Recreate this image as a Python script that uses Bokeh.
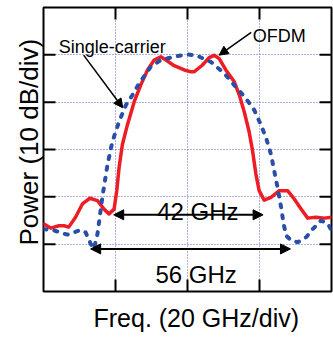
from bokeh.plotting import figure
from bokeh.models import (FixedTicker, Arrow, NormalHead, Label, Grid, Title,
                          ColumnDataSource)
from bokeh.embed import file_html
from bokeh.resources import INLINE

# ---- data (frequency offset in GHz, relative power in dB) ----
ofdm_freq = [-40.0, -38.0, -35.7, -34.3, -33.0, -31.1, -29.2, -27.1, -25.0, -23.2,
             -21.8, -20.4, -19.65, -19.0, -18.1, -16.7, -14.8, -13.0, -11.1, -9.25,
             -7.4, -6.0, -3.7, -0.9, 1.0, 1.8, 4.1, 6.0, 7.4, 8.8,
             10.65, 13.0, 14.4, 15.75, 17.1, 18.1, 19.0, 19.9, 21.3, 23.2,
             25.5, 27.8, 29.7, 31.6, 33.4, 35.7, 38.05, 40.0]
ofdm_power = [-45.7, -46.6, -46.1, -46.1, -46.4, -44.3, -41.5, -40.3, -40.8, -42.6,
              -43.6, -42.6, -38.7, -33.8, -29.0, -24.8, -19.9, -16.4, -13.2, -11.1,
              -10.4, -11.1, -12.3, -13.2, -13.6, -13.6, -12.2, -10.6, -10.1, -10.8,
              -13.2, -15.7, -18.5, -22.0, -26.2, -30.4, -35.2, -38.7, -40.7, -40.1,
              -38.7, -38.7, -40.5, -42.6, -44.5, -44.3, -44.5, -44.3]

sc_freq = [-40.0, -37.1, -33.4, -29.7, -28.3, -26.9, -26.0, -25.0, -23.6, -22.2,
           -20.85, -19.0, -17.1, -15.3, -13.4, -10.2, -7.4, -3.7, 0.1, 2.7,
           6.5, 10.2, 13.0, 16.2, 18.5, 20.4, 21.8, 23.2, 24.1, 25.0,
           26.0, 26.7, 27.4, 28.8, 30.6, 33.0, 34.8, 37.1, 39.0, 40.0]
sc_power = [-46.8, -47.1, -48.0, -47.0, -47.5, -49.9, -51.0, -47.8, -39.8, -33.1,
            -28.3, -24.1, -20.6, -18.5, -16.0, -12.5, -11.1, -10.4, -9.9, -10.2,
            -11.5, -13.9, -16.4, -19.2, -21.6, -24.8, -27.5, -31.05, -34.55, -38.0,
            -42.2, -45.7, -48.2, -49.2, -49.6, -48.5, -46.8, -45.0, -45.7, -47.1]

x_range = (-40, 40)
y_range = (-60, 0)
x_ticks = [-20, 0, 20]
y_ticks = [-50, -40, -30, -20, -10]

x_label = "Freq. (20 GHz/div)"
y_label = "Power (10 dB/div)"

# bandwidth markers: (text, start GHz, end GHz, level dB, text x, text baseline dB)
bw42 = ("42 GHz", -20.5, 21.0, -43.8, 2.9, -43.0)
bw56 = ("56 GHz", -26.9, 28.6, -51.0, 2.4, -56.4)

# callouts: (text, text x, text baseline, arrow start x, y, arrow end x, y)
call_sc = ("Single-carrier", -20.9, -8.4, -28.85, -10.07, -17.98, -21.19)
call_ofdm = ("OFDM", 25.5, -6.1, 17.7, -5.24, 8.78, -10.07)

FONT = "Liberation Sans"
W, H = 333, 342
BL, BR, BT, BB = 43, 2, 7, 49
FRAME_W = W - BL - BR
FRAME_H = H - BT - BB
TICK_PX = 12

p = figure(width=W, height=H, x_range=x_range, y_range=y_range,
           output_backend="svg", toolbar_location=None,
           x_axis_type=None, y_axis_type=None,
           min_border_left=BL, min_border_right=BR, min_border_top=BT,
           min_border_bottom=BB)
p.background_fill_color = "white"
p.border_fill_color = "white"
p.outline_line_color = "black"
p.outline_line_width = 2

grid_kw = dict(grid_line_color="#5b63c9", grid_line_dash="1 2", grid_line_width=1)
p.add_layout(Grid(dimension=0, ticker=FixedTicker(ticks=x_ticks), **grid_kw))
p.add_layout(Grid(dimension=1, ticker=FixedTicker(ticks=y_ticks), **grid_kw))

# inward tick marks on all four sides, derived from the tick lists
tx = TICK_PX * (x_range[1] - x_range[0]) / FRAME_W
ty = TICK_PX * (y_range[1] - y_range[0]) / FRAME_H
n = len(x_ticks)
m = len(y_ticks)
tick_src = dict(
    x0=x_ticks + x_ticks + [x_range[0]] * m + [x_range[1]] * m,
    x1=x_ticks + x_ticks + [x_range[0] + tx] * m + [x_range[1] - tx] * m,
    y0=[y_range[0]] * n + [y_range[1]] * n + y_ticks + y_ticks,
    y1=[y_range[0] + ty] * n + [y_range[1] - ty] * n + y_ticks + y_ticks,
)
p.segment("x0", "y0", "x1", "y1", source=ColumnDataSource(tick_src),
          line_color="black", line_width=2)

red_src = ColumnDataSource(dict(f=ofdm_freq, p=ofdm_power))
blue_src = ColumnDataSource(dict(f=sc_freq, p=sc_power))
p.line("f", "p", source=red_src, line_color="#ee1d25", line_width=3.5,
       line_join="round", line_cap="round")
p.line("f", "p", source=blue_src, line_color="#2b4fa6", line_width=4,
       line_dash="3 8", line_cap="round")

for txt, x0, x1, lev, lx, ly in (bw42, bw56):
    p.add_layout(Arrow(start=NormalHead(size=10, fill_color="black", line_color="black"),
                       end=NormalHead(size=10, fill_color="black", line_color="black"),
                       x_start=x0, y_start=lev, x_end=x1, y_end=lev,
                       line_width=2, line_color="black"))
    p.add_layout(Label(x=lx, y=ly, text=txt, text_align="center",
                       text_baseline="alphabetic", text_font=FONT,
                       text_font_size="24px", text_color="black"))

for txt, lx, ly, xs, ys, xe, ye in (call_sc, call_ofdm):
    p.add_layout(Arrow(end=NormalHead(size=9, fill_color="black", line_color="black"),
                       start=None, x_start=xs, y_start=ys, x_end=xe, y_end=ye,
                       line_width=1.5, line_color="black"))
    p.add_layout(Label(x=lx, y=ly, text=txt, text_align="center",
                       text_baseline="alphabetic", text_font=FONT,
                       text_font_size="18px", text_color="black"))

# axis titles in the side panels
p.add_layout(Title(text=x_label, align="left", offset=50, standoff=21,
                   text_font=FONT, text_font_style="normal",
                   text_font_size="25px", text_color="black"), "below")
p.add_layout(Title(text=y_label, align="left", offset=46, standoff=0,
                   text_font=FONT, text_font_style="normal",
                   text_font_size="26px", text_color="black"), "left")

open("out.html", "w").write(file_html(p, INLINE))
